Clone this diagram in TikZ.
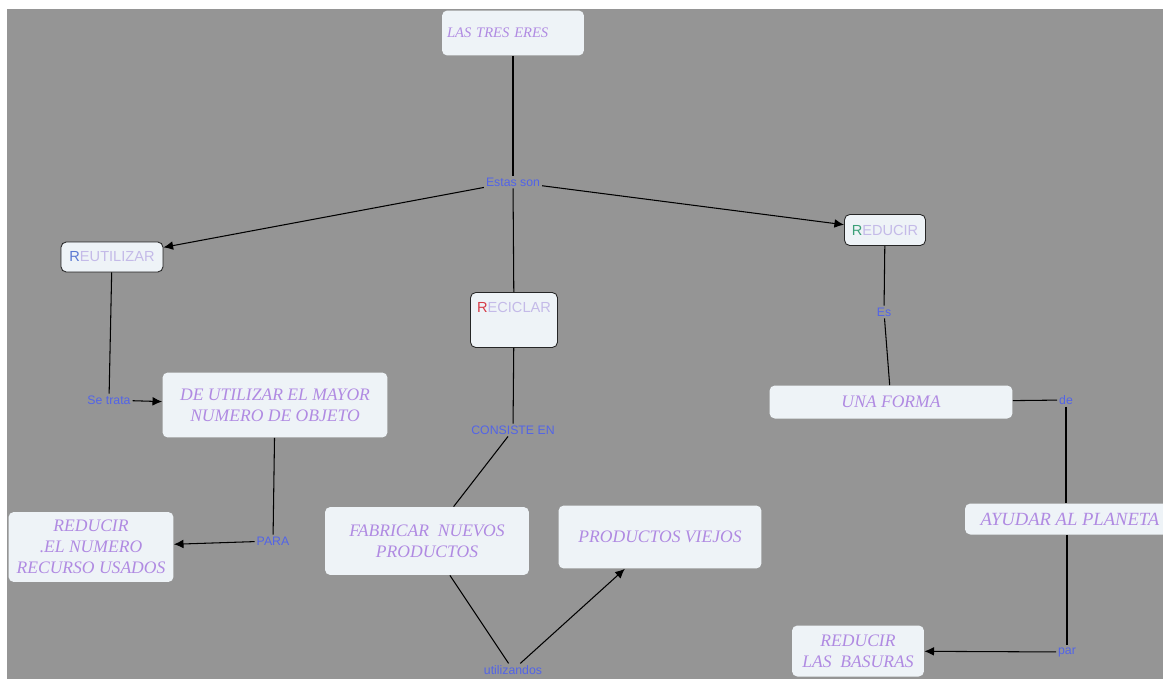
\documentclass[tikz,border=0pt]{standalone}
\usepackage{fontspec}
\setmainfont{Liberation Serif}
\setsansfont{Liberation Sans}
\usetikzlibrary{arrows.meta}
\definecolor{fondo}{RGB}{149,149,149}
\definecolor{caja}{RGB}{238,243,247}
\definecolor{lila}{RGB}{176,138,226}
\definecolor{azul}{RGB}{82,100,232}
\definecolor{rtexto}{RGB}{196,186,232}
\definecolor{rojo}{RGB}{214,60,72}
\definecolor{verde}{RGB}{60,160,120}
\definecolor{azulr}{RGB}{90,120,210}
\begin{document}
\begin{tikzpicture}[
  x=0.02cm, y=-0.02cm,
  >={Latex[length=5.5pt,width=5pt]},
  concepto/.style={fill=caja, rounded corners=3pt, align=center, inner sep=0pt,
    text=lila, font=\fontsize{10}{12}\selectfont\itshape},
  erre/.style={concepto, draw=black!85, line width=0.5pt,
    font=\fontsize{8.3}{9}\selectfont\sffamily, text=rtexto},
  enlace/.style={inner sep=1pt, text=azul, font=\fontsize{7}{8}\selectfont\sffamily},
  linea/.style={line width=0.6pt}
]
\useasboundingbox (0,0) rectangle (1163,679);
\fill [fondo] (7,9) rectangle (1163,679);

\node [concepto, minimum width=2.84cm, minimum height=0.9cm, align=left, text width=2.64cm,
  font=\fontsize{8.3}{9}\selectfont\itshape] (tres) at (513,33) {LAS TRES ERES};
\node [erre, minimum width=2.04cm, minimum height=0.6cm] (reutilizar) at (112,257) {{\color{azulr}R}EUTILIZAR};
\node [erre, minimum width=1.74cm, minimum height=1.1cm, text height=0.25cm, text depth=0.55cm] (reciclar) at (514,320) {{\color{rojo}R}ECICLAR};
\node [erre, minimum width=1.62cm, minimum height=0.62cm] (reducir) at (885,230) {{\color{verde}R}EDUCIR};
\node [concepto, minimum width=4.5cm, minimum height=1.3cm] (utilizar) at (275,405) {DE UTILIZAR EL MAYOR\\NUMERO DE OBJETO};
\node [concepto, minimum width=4.86cm, minimum height=0.66cm] (unaforma) at (891,402) {UNA FORMA};
\node [concepto, minimum width=3.3cm, minimum height=1.4cm] (recursos) at (91,547) {REDUCIR\\.EL NUMERO\\RECURSO USADOS};
\node [concepto, minimum width=4.08cm, minimum height=1.36cm] (fabricar) at (427,541) {FABRICAR~~NUEVOS\\PRODUCTOS};
\node [concepto, minimum width=4.06cm, minimum height=1.26cm] (viejos) at (660,537) {PRODUCTOS VIEJOS};
\node [concepto, minimum width=4.2cm, minimum height=0.62cm, font=\fontsize{10.6}{12}\selectfont\itshape] (ayudar) at (1070,519) {AYUDAR AL PLANETA};
\node [concepto, minimum width=2.64cm, minimum height=1.02cm] (basuras) at (858,651) {REDUCIR\\LAS~~BASURAS};

\node [enlace] (estas) at (513,182) {Estas son};
\node [enlace] (setrata) at (109,400) {Se trata};
\node [enlace] (consiste) at (513,430) {CONSISTE EN};
\node [enlace] (para) at (273,541) {PARA};
\node [enlace] (utilizandos) at (513,670) {utilizandos};
\node [enlace] (es) at (884,312) {Es};
\node [enlace] (de) at (1066,400) {de};
\node [enlace] (par) at (1067,652) {par};

\draw [linea] (tres) -- (estas);
\draw [linea, ->] (estas) -- (reutilizar);
\draw [linea, ->] (estas) -- (reducir);
\draw [linea] (estas) -- (reciclar);
\draw [linea] (reutilizar) -- (setrata);
\draw [linea, ->] (setrata) -- (utilizar);
\draw [linea] (utilizar) -- (para);
\draw [linea, ->] (para) -- (recursos);
\draw [linea] (reciclar) -- (consiste);
\draw [linea] (consiste) -- (fabricar);
\draw [linea] (fabricar) -- (utilizandos);
\draw [linea, ->] (utilizandos) -- (viejos);
\draw [linea] (reducir) -- (es);
\draw [linea] (es) -- (unaforma);
\draw [linea] (unaforma) -- (de);
\draw [linea] (de) -- (de |- ayudar.north);
\draw [linea] (par |- ayudar.south) -- (par);
\draw [linea, ->] (par) -- (basuras);
\end{tikzpicture}
\end{document}
